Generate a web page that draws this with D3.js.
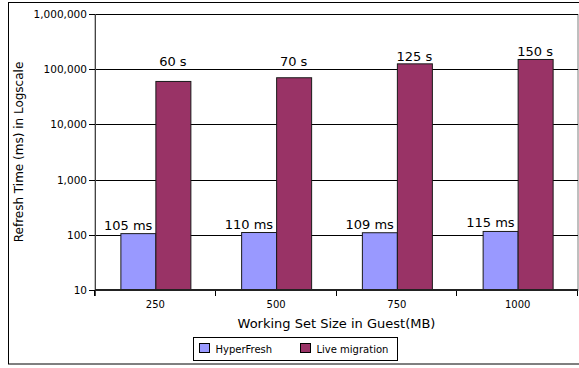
<!DOCTYPE html>
<html>
<head>
<meta charset="utf-8">
<script src="https://cdn.jsdelivr.net/npm/d3@7"></script>
<style>
  html, body { margin: 0; padding: 0; background: #fff; }
  svg { display: block; font-family: "DejaVu Sans", sans-serif; }
</style>
</head>
<body>
<svg id="chart" width="579" height="368"></svg>
<script>
// Working set sizes (MB)
const categories = ["250", "500", "750", "1000"];
// Refresh time in ms
const hyperFresh = [105, 110, 109, 115];
const liveMigration = [60000, 70000, 125000, 150000];
// Value labels drawn above the bars
const hyperLabels = ["105 ms", "110 ms", "109 ms", "115 ms"];
const liveLabels = ["60 s", "70 s", "125 s", "150 s"];
const seriesNames = ["HyperFresh", "Live migration"];
const yTicks = [10, 100, 1000, 10000, 100000, 1000000];

const colors = ["#9999ff", "#993366"];

const svg = d3.select("#chart");
const plot = { left: 95, right: 578, top: 14, bottom: 290 };

// Outer frame
svg.append("rect")
  .attr("x", 8.5).attr("y", 2.5)
  .attr("width", 600).attr("height", 361.5)
  .attr("fill", "#fff").attr("stroke", "#000").attr("stroke-width", 1);

const x = d3.scaleBand().domain(categories).range([plot.left, plot.right]).padding(0);
const y = d3.scaleLog().domain([10, 1000000]).range([plot.bottom, plot.top]);

const barW = 35;

// Plot area border
svg.append("rect")
  .attr("x", plot.left).attr("y", plot.top + 0.5)
  .attr("width", plot.right - plot.left).attr("height", plot.bottom - plot.top)
  .attr("fill", "none").attr("stroke", "#7f7f7f").attr("stroke-width", 1);

// Horizontal gridlines
svg.append("g").selectAll("line")
  .data(yTicks.slice(1))
  .join("line")
  .attr("x1", plot.left).attr("x2", plot.right)
  .attr("y1", d => Math.round(y(d)) + 0.5).attr("y2", d => Math.round(y(d)) + 0.5)
  .attr("stroke", "#000").attr("stroke-width", 1);

// Y axis
const yAxis = d3.axisLeft(y)
  .tickValues(yTicks)
  .tickFormat(d3.format(","))
  .tickSize(6)
  .tickPadding(2);
const gy = svg.append("g")
  .attr("transform", `translate(${plot.left},0)`)
  .call(yAxis);
gy.select(".domain").remove();
gy.selectAll(".tick line").attr("stroke", "#000");
gy.selectAll(".tick text").attr("font-size", "10.5px").attr("fill", "#000")
  .attr("font-family", "DejaVu Sans");
gy.selectAll(".tick").attr("transform", d => `translate(0,${Math.round(y(d)) + 0.5})`);

// Left axis line (extends a little below the plot)
svg.append("line")
  .attr("x1", plot.left + 0.5).attr("x2", plot.left + 0.5)
  .attr("y1", plot.top).attr("y2", plot.bottom + 6)
  .attr("stroke", "#444").attr("stroke-width", 1);

// Bars
const groups = svg.append("g").selectAll("g")
  .data(categories)
  .join("g");

groups.append("rect")
  .attr("x", (d) => x(d) + x.bandwidth() / 2 - barW + 0.5)
  .attr("y", (d, i) => y(hyperFresh[i]))
  .attr("width", barW)
  .attr("height", (d, i) => plot.bottom - y(hyperFresh[i]))
  .attr("fill", colors[0]).attr("stroke", "#1a1a1a").attr("stroke-width", 1);

groups.append("rect")
  .attr("x", (d) => x(d) + x.bandwidth() / 2 + 0.5)
  .attr("y", (d, i) => y(liveMigration[i]))
  .attr("width", barW)
  .attr("height", (d, i) => plot.bottom - y(liveMigration[i]))
  .attr("fill", colors[1]).attr("stroke", "#1a1a1a").attr("stroke-width", 1);

// Value labels
groups.append("text")
  .attr("x", d => x(d) + x.bandwidth() / 2 - 3)
  .attr("y", (d, i) => y(hyperFresh[i]) - 4)
  .attr("text-anchor", "end")
  .attr("font-size", "13px")
  .text((d, i) => hyperLabels[i]);

groups.append("text")
  .attr("x", d => x(d) + x.bandwidth() / 2 + barW / 2)
  .attr("y", (d, i) => Math.min(y(liveMigration[i]), y(100000)) - 3)
  .attr("text-anchor", "middle")
  .attr("font-size", "13px")
  .text((d, i) => liveLabels[i]);

// X axis
const xAxis = d3.axisBottom(x).tickSize(0).tickPadding(11);
const gx = svg.append("g")
  .attr("transform", `translate(0,${plot.bottom})`)
  .call(xAxis);
gx.select(".domain").remove();
gx.selectAll(".tick text").attr("font-size", "10px").attr("fill", "#000")
  .attr("font-family", "DejaVu Sans");

// Category boundary tick marks
const bounds = categories.map(c => x(c)).concat([plot.right]);
svg.append("g").selectAll("line")
  .data(bounds)
  .join("line")
  .attr("x1", d => Math.round(d) - 0.5).attr("x2", d => Math.round(d) - 0.5)
  .attr("y1", plot.bottom).attr("y2", plot.bottom + 6)
  .attr("stroke", "#000");

// Bottom axis line
svg.append("line")
  .attr("x1", plot.left).attr("x2", plot.right)
  .attr("y1", plot.bottom).attr("y2", plot.bottom)
  .attr("stroke", "#222").attr("stroke-width", 2);

// Axis titles
svg.append("text")
  .attr("x", (plot.left + plot.right) / 2).attr("y", 328)
  .attr("text-anchor", "middle").attr("font-size", "13px")
  .text("Working Set Size in Guest(MB)");

svg.append("text")
  .attr("transform", `translate(23,${(plot.top + plot.bottom) / 2}) rotate(-90)`)
  .attr("text-anchor", "middle").attr("font-size", "12px")
  .text("Refresh Time (ms) in Logscale");

// Legend
const legend = svg.append("g").attr("transform", "translate(193.5,337.5)");
legend.append("rect")
  .attr("width", 204).attr("height", 23)
  .attr("fill", "#fff").attr("stroke", "#000");
const legendX = [6, 107];
seriesNames.forEach((name, i) => {
  legend.append("rect")
    .attr("x", legendX[i]).attr("y", 6)
    .attr("width", 10).attr("height", 9)
    .attr("fill", colors[i]).attr("stroke", "#000");
  legend.append("text")
    .attr("x", legendX[i] + 16).attr("y", 15)
    .attr("font-size", "10px")
    .text(name);
});
</script>
</body>
</html>
